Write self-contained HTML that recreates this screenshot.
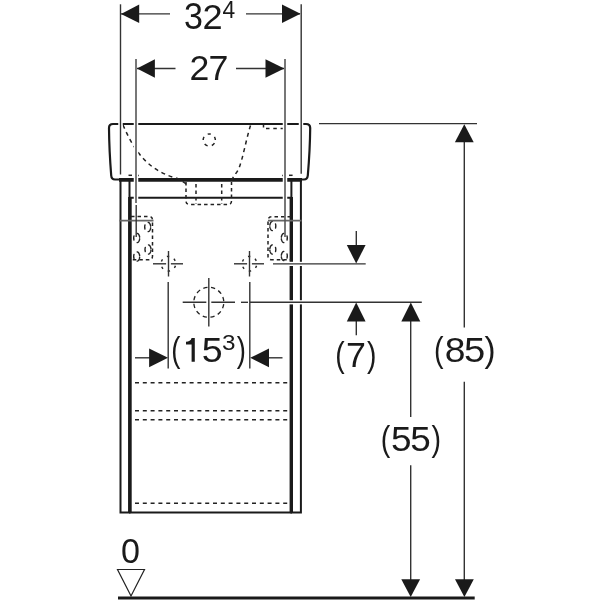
<!DOCTYPE html>
<html><head><meta charset="utf-8">
<style>
html,body{margin:0;padding:0;background:#fff;width:600px;height:600px;overflow:hidden}
svg{display:block}
text{font-family:"Liberation Sans",sans-serif;fill:#1a1a1a}
svg{will-change:transform}
</style></head>
<body>
<svg width="600" height="600" viewBox="0 0 600 600">
<rect width="600" height="600" fill="#fff"/>

<!-- ===== Basin ===== -->
<g fill="none" stroke="#1a1a1a" stroke-linecap="butt">
  <path d="M115,179.5 Q111.5,179.5 111.2,175.5 Q109.2,150 109,128 Q109,124 113,124 L306,124 Q310.2,124 310.2,128 Q310,150 307.8,175.5 Q307.4,179.5 304,179.5 Z" stroke-width="2.2"/>
  <!-- cabinet top (thicker) -->
  <line x1="119" y1="179.9" x2="302" y2="179.9" stroke-width="3.8"/>
  <!-- second horizontal -->
  <line x1="130" y1="197.8" x2="291" y2="197.8" stroke-width="2"/>
  <!-- cabinet left outer/inner -->
  <path d="M120.5,180 L120.5,512.4 L129.5,512.4 L129.5,180" stroke-width="2"/>
  <line x1="129.9" y1="197" x2="129.9" y2="513" stroke-width="3.6"/>
  <!-- cabinet right outer/inner -->
  <path d="M300.9,180 L300.9,512.4 L291.4,512.4 L291.4,180" stroke-width="2"/>
  <line x1="291.3" y1="197" x2="291.3" y2="513" stroke-width="3.4"/>
  <!-- cabinet bottom -->
  <line x1="129" y1="512.5" x2="292" y2="512.5" stroke-width="2.2"/>
</g>

<!-- dashed hidden lines -->
<g fill="none" stroke="#222" stroke-width="1.5" stroke-dasharray="4 3.8">
  <path d="M123,125 C133,148 146,170 176,178 C180,179 182,181 186,184"/>
  <path d="M250.5,125.5 C246,140 243,158 239,168 C237,173 233,176 231.5,181 L231.5,184"/>
  <circle cx="209.25" cy="140" r="6.1" stroke-dasharray="3.3 4.366" stroke-dashoffset="4.3"/>
  <line x1="263.5" y1="124.5" x2="263.5" y2="127.5" stroke-dasharray="none"/>
  <line x1="266" y1="128.6" x2="283.2" y2="128.6" stroke-dasharray="3.5 3.8"/>
  <line x1="128.5" y1="175.3" x2="132" y2="175.3" stroke-dasharray="none"/>
  <line x1="138" y1="175.5" x2="139" y2="175.5" stroke-dasharray="none"/>
  <line x1="289" y1="175.3" x2="292.6" y2="175.3" stroke-dasharray="none"/>
  <line x1="282" y1="175.5" x2="283" y2="175.5" stroke-dasharray="none"/>
  <!-- drain -->
  <path d="M186,182 L186,201 Q186,204.5 190,204.5 L228,204.5 Q231.5,204.5 231.5,201 L231.5,182" stroke-dasharray="3.5 3"/>
  <line x1="196" y1="184" x2="196" y2="204" stroke-dasharray="3.5 3"/>
  <line x1="221.7" y1="184" x2="221.7" y2="204" stroke-dasharray="3.5 3"/>
  <!-- cabinet horizontal dashed -->
  <line x1="135" y1="382.8" x2="288" y2="382.8"/>
  <line x1="135" y1="410.8" x2="288" y2="410.8"/>
  <line x1="135" y1="419.8" x2="288" y2="419.8"/>
  <line x1="135" y1="503.2" x2="288" y2="503.2"/>
  <!-- brackets -->
  <path d="M131,216.5 L149,216.5 Q152.5,216.5 152.5,220 L152.5,256 Q152.5,259.8 149,259.8 L131,259.8" stroke-dasharray="3.5 3"/>
  <path d="M291,216.8 L272,216.8 Q268,216.8 268,220.5 L268,256 Q268,259.8 272,259.8 L291,259.8" stroke-dasharray="3.5 3"/>
  <g stroke-dasharray="none" stroke-width="1.4" stroke-linecap="round">
    <path d="M137.22,233.37 L137.81,233.63 L138.35,234.07 L138.82,234.68 L139.21,235.42 L139.49,236.26 L139.65,237.18 M139.65,238.82 L139.49,239.74 L139.21,240.58 L138.82,241.32 L138.35,241.93 L137.81,242.37 L137.22,242.63 M133.98,239.99 L133.83,239.35 L133.73,238.68 L133.70,238.00 L133.73,237.32 L133.83,236.65 L133.98,236.01"/>
    <path d="M148.22,222.37 L148.81,222.63 L149.35,223.07 L149.82,223.68 L150.21,224.42 L150.49,225.26 L150.65,226.18 M150.65,227.82 L150.49,228.74 L150.21,229.58 L149.82,230.32 L149.35,230.93 L148.81,231.37 L148.22,231.63 M144.98,228.99 L144.83,228.35 L144.73,227.68 L144.70,227.00 L144.73,226.32 L144.83,225.65 L144.98,225.01"/>
    <path d="M148.52,244.87 L149.11,245.13 L149.65,245.57 L150.12,246.18 L150.51,246.92 L150.79,247.76 L150.95,248.68 M150.95,250.32 L150.79,251.24 L150.51,252.08 L150.12,252.82 L149.65,253.43 L149.11,253.87 L148.52,254.13 M145.28,251.49 L145.13,250.85 L145.03,250.18 L145.00,249.50 L145.03,248.82 L145.13,248.15 L145.28,247.51"/>
    <path d="M137.22,251.87 L137.81,252.13 L138.35,252.57 L138.82,253.18 L139.21,253.92 L139.49,254.76 L139.65,255.68 M139.65,257.32 L139.49,258.24 L139.21,259.08 L138.82,259.82 L138.35,260.43 L137.81,260.87 L137.22,261.13 M133.98,258.49 L133.83,257.85 L133.73,257.18 L133.70,256.50 L133.73,255.82 L133.83,255.15 L133.98,254.51"/>
    <path d="M269.85,225.18 L270.01,224.26 L270.29,223.42 L270.68,222.68 L271.15,222.07 L271.69,221.63 L272.28,221.37 M272.28,230.63 L271.69,230.37 L271.15,229.93 L270.68,229.32 L270.29,228.58 L270.01,227.74 L269.85,226.82 M275.52,224.01 L275.67,224.65 L275.77,225.32 L275.80,226.00 L275.77,226.68 L275.67,227.35 L275.52,227.99"/>
    <path d="M281.35,237.18 L281.51,236.26 L281.79,235.42 L282.18,234.68 L282.65,234.07 L283.19,233.63 L283.78,233.37 M283.78,242.63 L283.19,242.37 L282.65,241.93 L282.18,241.32 L281.79,240.58 L281.51,239.74 L281.35,238.82 M287.02,236.01 L287.17,236.65 L287.27,237.32 L287.30,238.00 L287.27,238.68 L287.17,239.35 L287.02,239.99"/>
    <path d="M269.85,248.68 L270.01,247.76 L270.29,246.92 L270.68,246.18 L271.15,245.57 L271.69,245.13 L272.28,244.87 M272.28,254.13 L271.69,253.87 L271.15,253.43 L270.68,252.82 L270.29,252.08 L270.01,251.24 L269.85,250.32 M275.52,247.51 L275.67,248.15 L275.77,248.82 L275.80,249.50 L275.77,250.18 L275.67,250.85 L275.52,251.49"/>
    <path d="M281.35,255.18 L281.51,254.26 L281.79,253.42 L282.18,252.68 L282.65,252.07 L283.19,251.63 L283.78,251.37 M283.78,260.63 L283.19,260.37 L282.65,259.93 L282.18,259.32 L281.79,258.58 L281.51,257.74 L281.35,256.82 M287.02,254.01 L287.17,254.65 L287.27,255.32 L287.30,256.00 L287.27,256.68 L287.17,257.35 L287.02,257.99"/>
  </g>
  <!-- crosshair circles -->
  <circle cx="168.4" cy="263.7" r="7.3" stroke-width="1.4" stroke-dasharray="2.4 5.245" stroke-dashoffset="5.6"/>
  <circle cx="249.5" cy="263.7" r="7.3" stroke-width="1.4" stroke-dasharray="2.4 5.245" stroke-dashoffset="5.6"/>
  <circle cx="208.8" cy="302.3" r="15" stroke-width="1.3" stroke-dasharray="4.2 3.654" stroke-dashoffset="6.02"/>
</g>

<!-- ===== Dimension lines ===== -->
<g fill="none" stroke="#333" stroke-width="1.4">
  <!-- 32.4 extension -->
  <line x1="120.5" y1="5" x2="120.5" y2="174.5" stroke="#fff" stroke-width="4.5"/>
  <line x1="301" y1="4.5" x2="301" y2="173.5" stroke="#fff" stroke-width="4.5"/>
  <line x1="136" y1="59" x2="136" y2="203" stroke="#fff" stroke-width="4.5"/>
  <line x1="285" y1="59" x2="285" y2="203" stroke="#fff" stroke-width="4.5"/>
  <line x1="120.5" y1="4.3" x2="120.5" y2="174.5"/>
  <line x1="301.2" y1="4.3" x2="301.2" y2="173.8"/>
  <line x1="136" y1="59" x2="136" y2="203" stroke="#555" stroke-width="1.6"/>
  <line x1="285" y1="59" x2="285" y2="203" stroke="#555" stroke-width="1.6"/>
  <line x1="121" y1="13.9" x2="170" y2="13.9"/>
  <line x1="246" y1="13.9" x2="300" y2="13.9"/>
  <line x1="137" y1="68.5" x2="175.5" y2="68.5"/>
  <line x1="236" y1="68.5" x2="284" y2="68.5"/>

  <!-- crosshairs -->
  <line x1="119.5" y1="220.7" x2="153.5" y2="220.7" stroke="#666" stroke-width="1.8"/>
  <line x1="136.2" y1="205" x2="136.2" y2="237"/>
  <line x1="268" y1="220.7" x2="301.5" y2="220.7" stroke="#666" stroke-width="1.8"/>
  <line x1="285" y1="203" x2="285" y2="237" stroke="#555" stroke-width="1.6"/>
  <line x1="153" y1="263.8" x2="183" y2="263.8"/>
  <line x1="166.1" y1="263.8" x2="170.9" y2="263.8" stroke="#fff" stroke-width="3"/>
  <line x1="168.5" y1="251" x2="168.5" y2="276.5"/>
  <line x1="234" y1="263.8" x2="264" y2="263.8"/>
  <line x1="247.1" y1="263.8" x2="251.9" y2="263.8" stroke="#fff" stroke-width="3"/>
  <line x1="249.5" y1="251" x2="249.5" y2="276.5"/>
  <line x1="182.7" y1="302.3" x2="235" y2="302.3"/>
  <line x1="206.3" y1="302.3" x2="211.3" y2="302.3" stroke="#fff" stroke-width="3"/>
  <line x1="208.8" y1="278" x2="208.8" y2="326.5"/>
  <line x1="241" y1="302.3" x2="248" y2="302.3"/>
  <!-- 15.3 extension -->
  <line x1="168.2" y1="282" x2="168.2" y2="368.5"/>
  <line x1="249.8" y1="282" x2="249.8" y2="368.5"/>
  <line x1="135" y1="357.8" x2="150" y2="357.8"/>
  <line x1="269" y1="357.8" x2="282.5" y2="357.8"/>

  <!-- height refs -->
  <line x1="319" y1="123.6" x2="477" y2="123.6"/>
      <line x1="356.3" y1="231" x2="356.3" y2="246"/>
  <line x1="356.3" y1="320" x2="356.3" y2="335.3"/>
  <line x1="464.3" y1="141" x2="464.3" y2="327.5"/>
  <line x1="464.3" y1="381.7" x2="464.3" y2="581"/>
  <line x1="410.7" y1="321" x2="410.7" y2="417"/>
  <line x1="410.7" y1="465.3" x2="410.7" y2="581"/>
</g>
<!-- halos on cabinet lines -->
<g stroke="#fff" stroke-width="4.2">
  <line x1="286" y1="263.9" x2="305" y2="263.9"/>
  <line x1="286" y1="302.3" x2="305" y2="302.3"/>
</g>
<g stroke="#333" stroke-width="1.4">
  <line x1="273" y1="263.9" x2="365.7" y2="263.9"/>
  <line x1="250" y1="302.3" x2="421.8" y2="302.3"/>
</g>
<!-- ground line -->
<line x1="118" y1="598" x2="474.7" y2="598" stroke="#1a1a1a" stroke-width="2.8"/>
<!-- zero triangle -->
<path d="M117.5,569.5 L144.5,569.5 L131,596 Z" fill="none" stroke="#222" stroke-width="1.2"/>

<!-- arrowheads -->
<g fill="#1a1a1a">
  <path d="M121,13.9 L139.2,4.6 L139.2,23.1 Z"/>
  <path d="M300.5,13.8 L282,4.4 L282,23 Z"/>
  <path d="M137,68.5 L154.9,59.2 L154.9,77.8 Z"/>
  <path d="M284.3,68.5 L265.5,59.2 L265.5,77.8 Z"/>
  <path d="M168,357.8 L149.1,348.4 L149.1,367.3 Z"/>
  <path d="M250.2,357.8 L269,348.4 L269,367.3 Z"/>
  <path d="M356.2,263.5 L346.8,245 L365.6,245 Z"/>
  <path d="M356.2,302.6 L346.8,321.5 L365.6,321.5 Z"/>
  <path d="M410.8,302.6 L401.3,321.4 L420.3,321.4 Z"/>
  <path d="M464.3,124.2 L454.9,142.3 L473.7,142.3 Z"/>
  <path d="M410.7,597 L401.3,579.3 L420.1,579.3 Z"/>
  <path d="M464.4,597 L455,579.3 L473.8,579.3 Z"/>
</g>

<!-- ===== Text ===== -->
<g font-size="100">
<text transform="translate(183.95,29.25) scale(0.3406,0.3602)">3</text>
<text transform="translate(202.58,28.90) scale(0.3622,0.3552)">2</text>
<text transform="translate(222.48,17.70) scale(0.2282,0.2384)">4</text>
<text transform="translate(189.46,80.00) scale(0.3567,0.3523)">2</text>
<text transform="translate(208.56,80.00) scale(0.3586,0.3576)">7</text>
<text transform="translate(171.29,362.43) scale(0.2753,0.3510)">(</text>
<path d="M191.6,338 L194.8,338 L194.8,361.7 L191.6,361.7 L191.6,344.5 L186,344.5 L186,341.8 C188.8,341.7 191,340.6 191.6,338 Z" fill="#1a1a1a"/>
<text transform="translate(201.70,362.15) scale(0.3754,0.3540)">5</text>
<text transform="translate(222.08,350.28) scale(0.2426,0.2260)">3</text>
<text transform="translate(236.64,362.36) scale(0.2753,0.3499)">)</text>
<text transform="translate(335.35,367.23) scale(0.2829,0.3510)">(</text>
<text transform="translate(346.06,366.80) scale(0.3586,0.3503)">7</text>
<text transform="translate(366.93,367.23) scale(0.2829,0.3510)">)</text>
<text transform="translate(434.02,362.43) scale(0.2866,0.3510)">(</text>
<text transform="translate(444.68,362.36) scale(0.3729,0.3503)">8</text>
<text transform="translate(464.07,362.35) scale(0.3818,0.3554)">5</text>
<text transform="translate(484.61,362.43) scale(0.3319,0.3510)">)</text>
<text transform="translate(380.82,450.66) scale(0.2866,0.3499)">(</text>
<text transform="translate(391.02,450.56) scale(0.3691,0.3511)">5</text>
<text transform="translate(410.32,450.56) scale(0.3691,0.3511)">5</text>
<text transform="translate(431.43,450.66) scale(0.2866,0.3499)">)</text>
<text transform="translate(120.97,562.95) scale(0.3410,0.3545)">0</text>
</g>
</svg>
</body></html>
